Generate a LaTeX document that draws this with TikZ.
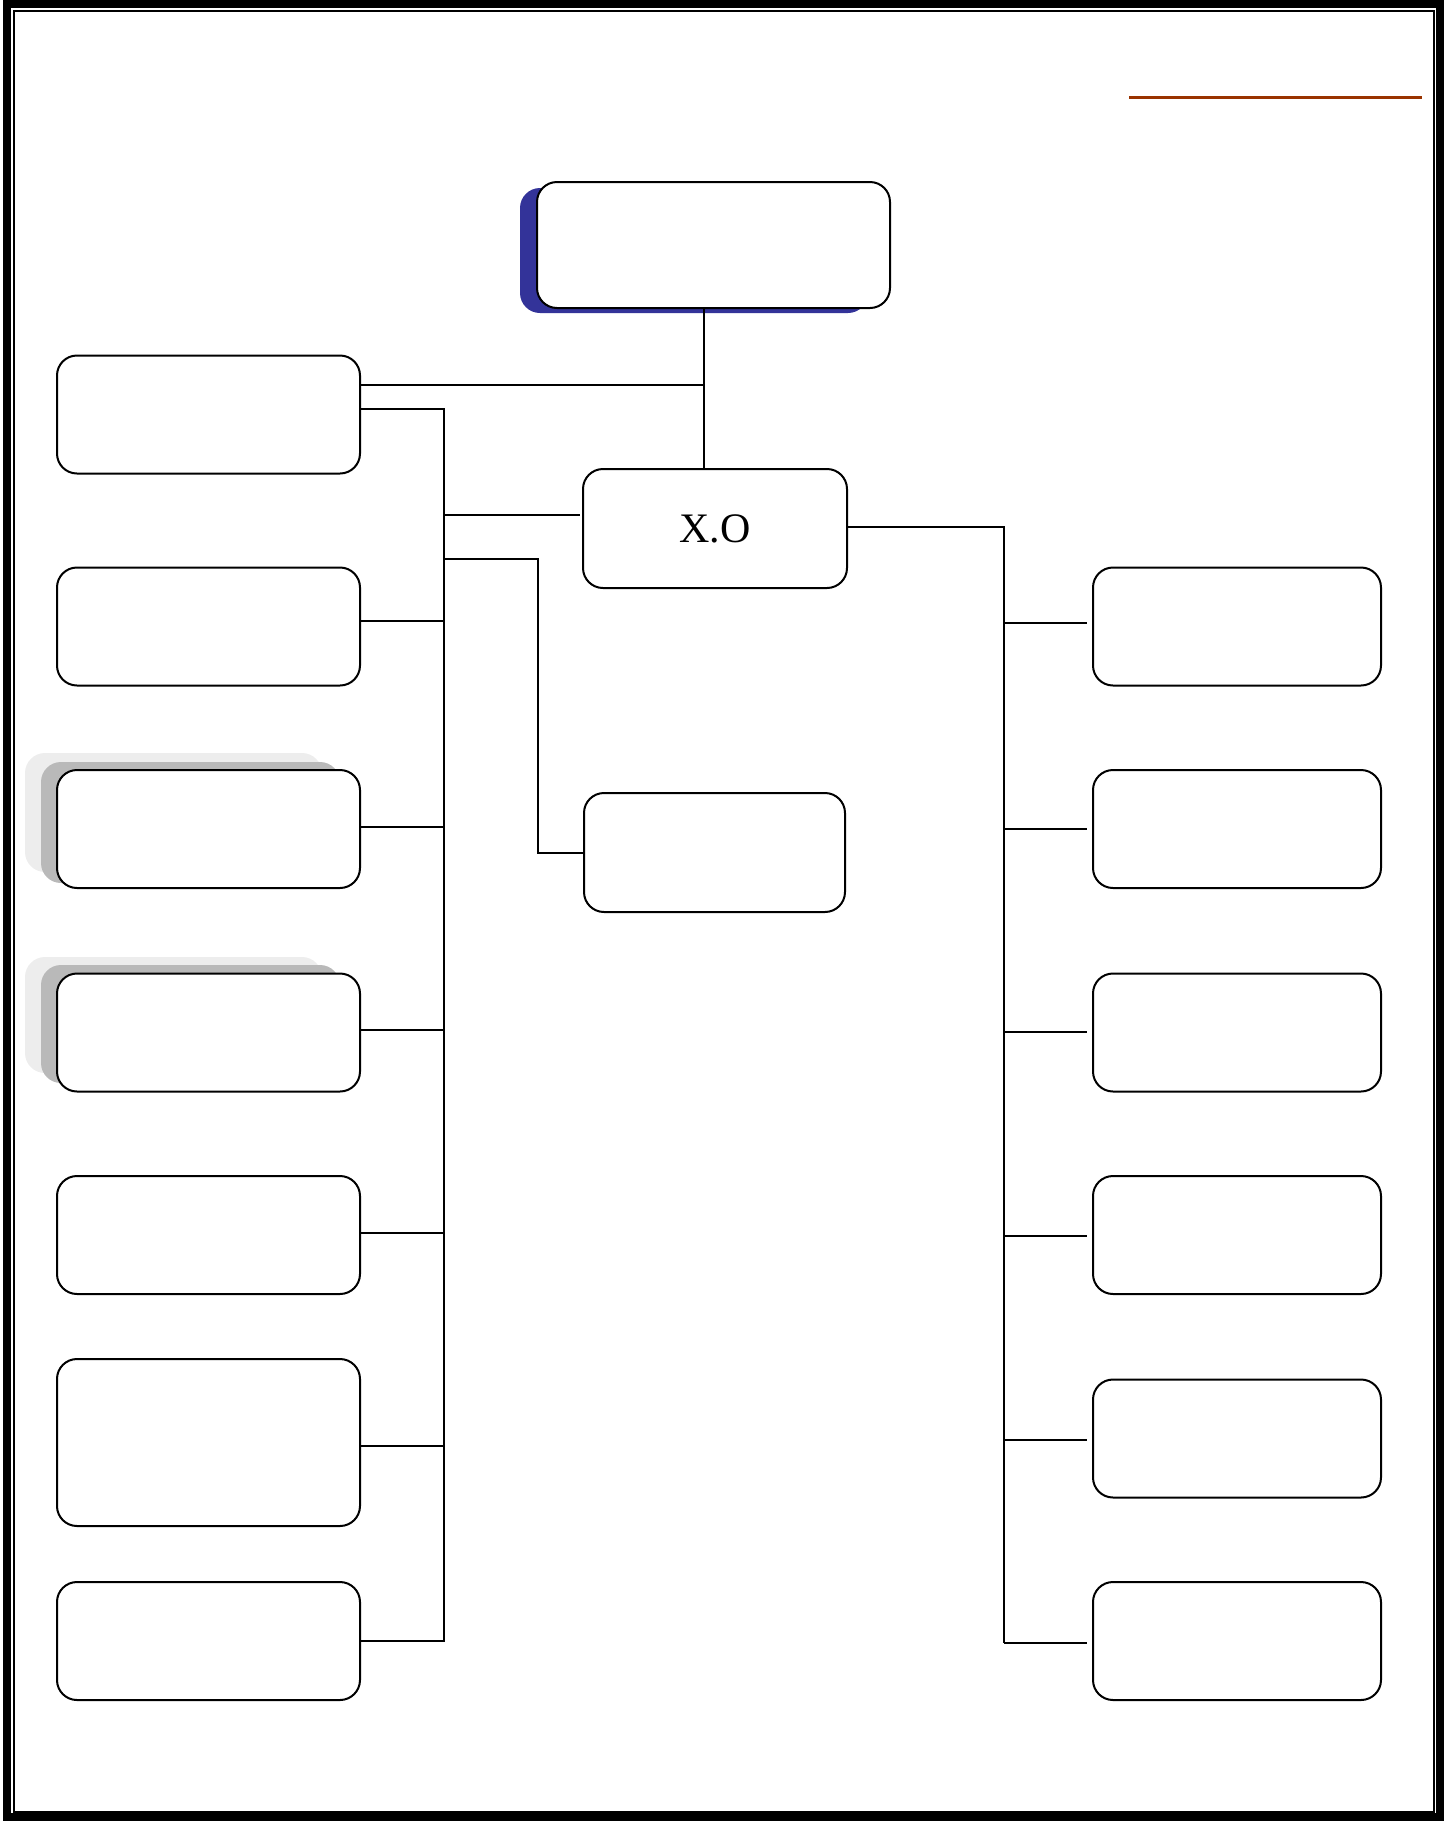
\documentclass[tikz,border=0pt]{standalone}
\usepackage{fontspec}
\setmainfont{Liberation Serif}
\definecolor{shadowblue}{RGB}{51,51,153}
\definecolor{rustred}{RGB}{153,51,0}
\begin{document}
\begin{tikzpicture}[x=0.5pt,y=-0.5pt,
  box/.style={draw=black,line width=1pt,fill=white,rounded corners=10pt,inner sep=0pt},
  lbox/.style={box,minimum width=151.5pt,minimum height=59pt},
  rbox/.style={box,minimum width=144pt,minimum height=59pt},
  conn/.style={draw=black,line width=1pt},
  darksh/.style={fill=gray!55,rounded corners=10pt},
  lightsh/.style={fill=gray!14,rounded corners=10pt}]
\useasboundingbox (0,0) rectangle (1446,1821);
% page borders
\draw[line width=4pt] (7,4) rectangle (1440,1817);
\draw[line width=1pt] (14,11) rectangle (1434,1812);
% red rule
\draw[rustred,line width=1.5pt] (1129,97.5) -- (1422,97.5);
% shadows
\fill[shadowblue,rounded corners=10pt] (520,188) rectangle (868,313);
\fill[lightsh] (25,753) rectangle (322,872);
\fill[darksh] (41,762) rectangle (340,883);
\fill[lightsh] (25,957) rectangle (322,1073);
\fill[darksh] (41,965) rectangle (340,1083);
% nodes
\node[box,minimum width=176.5pt,minimum height=63pt] (top) at (713.5,245) {};
\node[box,minimum width=132pt,minimum height=59.5pt,font=\fontsize{21}{24}\selectfont] (XO) at (715,528.5) {X.O};
\node[box,minimum width=130.5pt,minimum height=59.5pt] (M) at (714.5,852.5) {};
\node[lbox] (L1) at (208.5,414.5) {};
\node[lbox] (L2) at (208.5,626.5) {};
\node[lbox] (L3) at (208.5,829) {};
\node[lbox] (L4) at (208.5,1032.5) {};
\node[lbox] (L5) at (208.5,1235) {};
\node[lbox,minimum height=83.5pt] (L6) at (208.5,1442.5) {};
\node[lbox] (L7) at (208.5,1641) {};
\node[rbox] (R1) at (1237,626.5) {};
\node[rbox] (R2) at (1237,829) {};
\node[rbox] (R3) at (1237,1032.5) {};
\node[rbox] (R4) at (1237,1235) {};
\node[rbox] (R5) at (1237,1438.5) {};
\node[rbox] (R6) at (1237,1641) {};
% bus coordinates
\coordinate (v) at (704,0);
\coordinate (lb) at (444,0);
\coordinate (mb) at (538,0);
\coordinate (rb) at (1004,0);
% connectors
\draw[conn] (v |- top.south) -- (v |- XO.north);
\draw[conn] (L1.east |- 0,385) -- (v |- 0,385);
\draw[conn] (L1.east |- 0,409) -- (lb |- 0,409) -- (lb |- L7.east) -- (L7.east);
\draw[conn] (lb |- 0,621) -- (L2.east |- 0,621);
\draw[conn] (lb |- 0,827) -- (L3.east |- 0,827);
\draw[conn] (lb |- 0,1030) -- (L4.east |- 0,1030);
\draw[conn] (lb |- 0,1233) -- (L5.east |- 0,1233);
\draw[conn] (lb |- 0,1446) -- (L6.east |- 0,1446);
\draw[conn] (lb |- 0,515) -- ([xshift=-1pt]XO.west |- 0,515);
\draw[conn] (lb |- 0,559) -- (mb |- 0,559) -- (mb |- 0,853) -- (M.west |- 0,853);
\draw[conn] (XO.east |- 0,527) -- (rb |- 0,527) -- (rb |- 0,1643);
\draw[conn,shorten >=2.5pt] (rb |- 0,623) -- (R1.west |- 0,623);
\draw[conn,shorten >=2.5pt] (rb |- 0,829) -- (R2.west |- 0,829);
\draw[conn,shorten >=2.5pt] (rb |- 0,1032) -- (R3.west |- 0,1032);
\draw[conn,shorten >=2.5pt] (rb |- 0,1236) -- (R4.west |- 0,1236);
\draw[conn,shorten >=2.5pt] (rb |- 0,1440) -- (R5.west |- 0,1440);
\draw[conn,shorten >=2.5pt] (rb |- 0,1643) -- (R6.west |- 0,1643);
\end{tikzpicture}
\end{document}
